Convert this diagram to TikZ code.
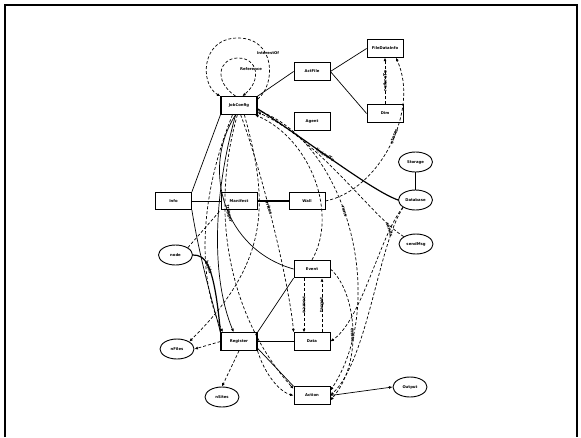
\documentclass[tikz,border=0pt]{standalone}
\usepackage{fontspec}
\setmainfont{DejaVu Sans}
\usetikzlibrary{shapes.geometric,arrows.meta}
\begin{document}
\begin{tikzpicture}[x=1pt,y=-1pt,
  lab/.style={font=\fontsize{3.8}{4.2}\selectfont\bfseries},
  box/.style={draw,line width=0.8pt,minimum width=36pt,minimum height=17.5pt,inner sep=0pt,lab},
  oval/.style={draw,ellipse,line width=0.9pt,minimum width=34pt,minimum height=20pt,inner sep=0pt,lab},
  sl/.style={line width=0.7pt},
  tl/.style={line width=1.2pt},
  dl/.style={line width=0.7pt,dash pattern=on 3pt off 2pt},
  arr/.style={-{Latex[length=3.5pt,width=3pt]}},
  elab/.style={font=\fontsize{4.4}{4.8}\selectfont\bfseries,inner sep=0.3pt}]
\useasboundingbox (0,0) rectangle (581,437);
\draw[line width=1.6pt] (5,437) -- (5,5) -- (577,5) -- (577,437);
% nodes
\node[box,line width=1.1pt] (job) at (239,105.5) {JobConfig};
\node[box] (act) at (312,71.5) {ActFile};
\node[box] (fdi) at (385,48.5) {FileDataInfo};
\node[box] (dim) at (385,113.5) {Dim};
\node[box] (agent) at (312,121.5) {Agent};
\node[box] (info) at (173.5,201) {Info};
\node[box] (man) at (239,201) {Manifest};
\node[box] (wall) at (307,201) {Wall};
\node[box] (event) at (312,269) {Event};
\node[box] (data) at (312,341.5) {Data};
\node[box,line width=1.1pt] (reg) at (239,341.5) {Register};
\node[box] (action) at (312,395.5) {Action};
\node[oval] (storage) at (415.5,162) {Storage};
\node[oval] (database) at (415.5,200) {Database};
\node[oval] (sendmsg) at (416,244) {sendMsg};
\node[oval] (nodea) at (175.5,255) {node};
\node[oval] (nfiles) at (177,349) {nFiles};
\node[oval] (nrites) at (222,397) {nSites};
\node[oval] (output) at (410,387) {Output};
% self loops
\draw[dl,arr] (job.north east) ++(0,3) .. controls (276,85) and (276,38) .. (238,38)
  .. controls (200,38) and (200,85) .. (job.north west);
\node[lab] at (268,53) {InterestOf};
\draw[dl,arr] (job.110) .. controls (212,80) and (220,58) .. (238,58)
  .. controls (258,58) and (262,80) .. (job.70);
\node[lab] at (251,69) {Reference};
% solid edges
\draw[sl] (job.north east) -- (act.west);
\draw[sl] (act.east) -- (fdi.west);
\draw[sl] (act.east) -- (dim.west);
\draw[line width=0.5pt] (info) -- (man);
\draw[tl] (man) -- (wall);
\draw[sl] (info.north east) -- (job.south west);
\draw[sl] (info.south east) .. controls (200,260) and (212,300) .. (reg.north west);
\draw[sl,arr] (job.250) .. controls (212,200) and (212,280) .. (reg.120);
\draw[tl] (nodea.east) .. controls (205,255) and (214,262) .. node[pos=0.5,elab,rotate=-72]{holds} (reg.north west);
\draw[sl] (reg.north east) -- (event.south west);
\draw[sl] (reg.east) -- (data.west);
\draw[sl] (reg.-20) -- (action.north west);
\draw[sl,arr] (action.east) -- (output.west);
\draw[sl] (storage) -- (database);
\draw[tl] (database.west) .. controls (370,190) and (300,135) .. node[pos=0.55,elab,rotate=-32]{linkedTo} (job.-10);
\draw[sl] (event.west) .. controls (225,250) and (200,170) .. node[pos=0.45,elab,rotate=-78]{trigger} (job.-110);
% dashed edges
\draw[dl,arr] (dim.north) -- node[elab,rotate=90]{refersTo} (fdi.south);
\draw[dl,arr] (wall.east) .. controls (380,190) and (420,110) .. node[pos=0.55,elab,rotate=70]{stores} (fdi.-40);
\draw[dl] (nodea.north east) -- (man.south west);
\draw[dl,arr] (job.-60) .. controls (268,200) and (272,260) .. (nfiles.north east);
\draw[dl,arr] (reg.west) -- (nfiles.east);
\draw[dl,arr] (reg.south) -- (nrites.north);
\draw[dl,arr] (reg.south east) .. controls (265,375) and (280,392) .. (action.west);
\draw[dl,arr] ([xshift=-8pt]event.south) -- node[elab,rotate=-90]{source} ([xshift=-8pt]data.north);
\draw[dl,arr] ([xshift=10pt]data.north) -- node[elab,rotate=90]{target} ([xshift=10pt]event.south);
\draw[dl,arr] (sendmsg.north west) .. controls (370,215) and (320,140) .. (job.-20);
\draw[dl,arr] (database.south west) .. controls (378,245) and (368,360) .. (action.east);
\draw[dl,arr] (job.-15) .. controls (345,140) and (390,300) .. node[pos=0.45,elab,rotate=-75]{runs} (action.15);
\draw[dl,arr] (event.east) .. controls (355,290) and (365,360) .. node[pos=0.55,elab,rotate=-88]{emits} (action.-15);
\draw[dl,arr] (database.-150) .. controls (380,235) and (362,320) .. node[pos=0.2,elab,rotate=-72]{sends} (data.east);
\draw[dl,arr] (event.north) .. controls (338,215) and (312,140) .. (job.-30);
\draw[dl,arr] (job.-80) .. controls (265,180) and (290,290) .. node[pos=0.4,elab,rotate=-72]{writes} (data.north west);
\draw[dl,arr] (job.-125) .. controls (198,200) and (198,280) .. (reg.150);
\draw[dl,arr] (job.-100) .. controls (205,230) and (240,330) .. (action.160);
\end{tikzpicture}
\end{document}
